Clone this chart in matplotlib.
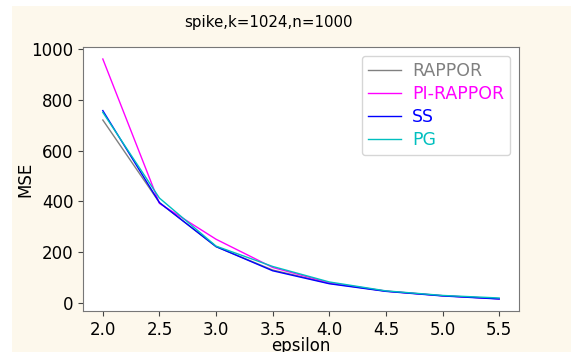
import matplotlib
matplotlib.use("Agg")
import matplotlib.pyplot as plt
from matplotlib.patches import Rectangle

epsilon = [2.0, 2.5, 3.0, 3.5, 4.0, 4.5, 5.0, 5.5]
rappor = [720, 395, 222, 130, 78, 47, 29, 17]
pi_rappor = [960, 392, 251, 140, 80, 47, 29, 17]
ss = [757, 395, 222, 127, 76, 46, 28, 16]
pg = [750, 413, 224, 144, 83, 48, 30, 20]

labels = ["RAPPOR", "PI-RAPPOR", "SS", "PG"]
colors = ["gray", "magenta", "blue", "c"]

W, H = 571, 352
fig = plt.figure(figsize=(W / 100, H / 100), dpi=100, facecolor="white")
fig.patches.append(Rectangle((12 / W, 0), 1 - 12 / W, 1 - 6 / H, transform=fig.transFigure,
                             facecolor="#fdf8ec", edgecolor="none", zorder=-10))
ax = fig.add_axes([83 / W, 1 - 311 / H, (519 - 83) / W, (311 - 47) / H])
for series, lab, col in zip([rappor, pi_rappor, ss, pg], labels, colors):
    ax.plot(epsilon, series, color=col, lw=1.0, label=lab)

ax.set_xticks(epsilon)
ax.set_yticks([0, 200, 400, 600, 800, 1000])
ax.tick_params(labelsize=12, length=3.5, color="#444444")
for s in ax.spines.values():
    s.set_color("#777777")
ax.set_xlabel("epsilon", fontsize=12, labelpad=-1.2)
ax.set_ylabel("MSE", fontsize=12, labelpad=-2)
fig.text(268 / W, 1 - 23 / H, "spike,k=1024,n=1000", fontsize=10.8, ha="center", va="center")
ax.legend(loc="upper right", fontsize=12.5, labelcolor="linecolor", handlelength=1.9,
          borderaxespad=0.5, handletextpad=0.65, labelspacing=0.3, borderpad=0.35)

fig.savefig("out.png", dpi=100, facecolor=fig.get_facecolor())
